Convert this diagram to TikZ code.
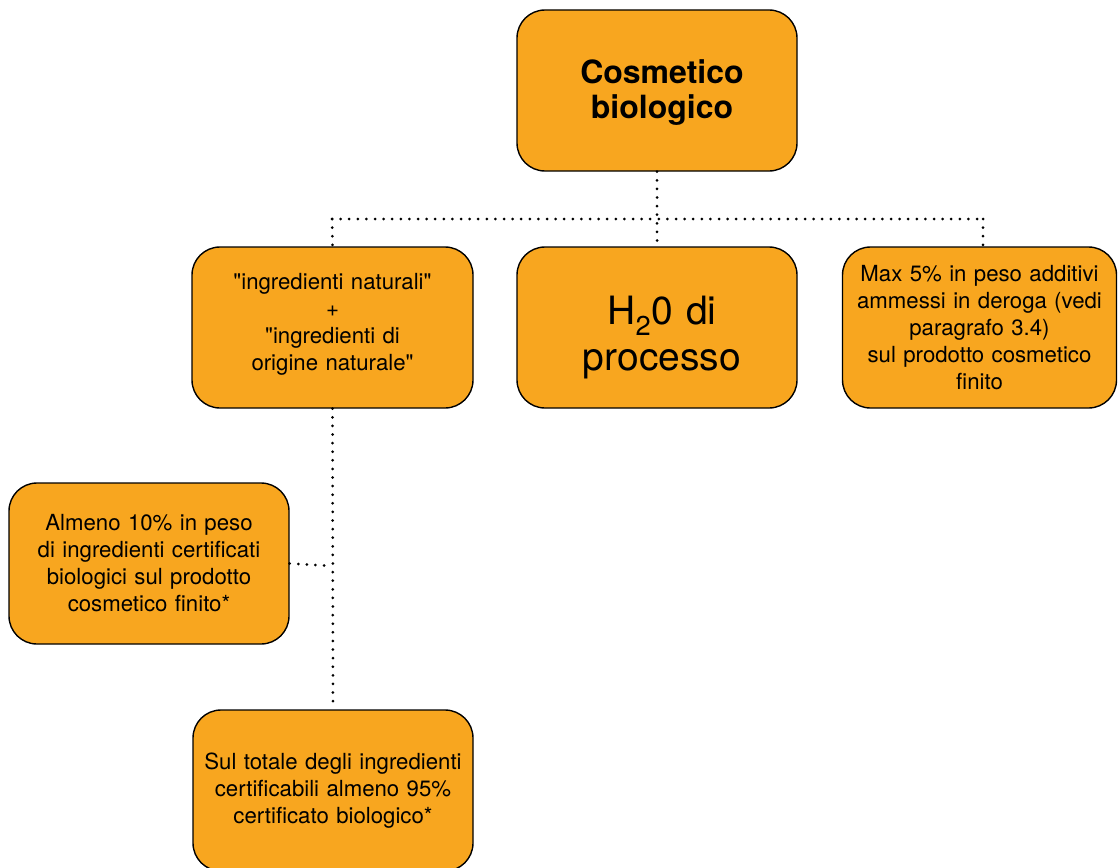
\documentclass[tikz,border=0pt]{standalone}
\usepackage{fontspec}
\setmainfont{TeX Gyre Heros}
\definecolor{boxfill}{HTML}{F8A61F}
\newcommand{\qq}{\textquotedbl}
\begin{document}
\begin{tikzpicture}[x=1pt,y=-1pt,
  box/.style={draw=black, line width=1.4pt, fill=boxfill, rounded corners=28pt,
    minimum width=280pt, minimum height=161pt, inner sep=0pt, align=center,
    font=\fontsize{22.2}{27}\selectfont},
  conn/.style={line width=3pt, line cap=round, dash pattern=on 0pt off 8.6pt}]
\useasboundingbox (0,0) rectangle (1118,867);
\node[box, text width=250pt, font=\fontsize{32}{35}\bfseries\selectfont] (top) at (657,90.5) {\hspace*{10pt}\rule{0pt}{27pt}Cosmetico\\\hspace*{10pt}biologico};
\node[box, minimum width=281pt, text width=265pt] (ing) at (332.5,327.5) {\qq ingredienti naturali\qq\\+\\\qq ingredienti di\\origine naturale\qq\rule[-12pt]{0pt}{0pt}};
\node[box, text width=250pt, font=\fontsize{39}{46}\selectfont] (h2o) at (657,327.5) {\hspace*{10pt}\rule{0pt}{48pt}H\textsubscript{2}0 di\\\hspace*{10pt}processo};
\node[box, minimum width=274pt, text width=266pt] (max) at (979.5,327.5) {Max 5\% in peso additivi\\ammessi in deroga (vedi\\paragrafo 3.4)\\sul prodotto cosmetico\\finito};
\node[box, text width=270pt] (alm) at (149,563.5) {Almeno 10\% in peso\\di ingredienti certificati\\biologici sul prodotto\\cosmetico finito*};
\node[box, text width=272pt] (sul) at (333,790.5) {Sul totale degli ingredienti\\certificabili almeno 95\%\\certificato biologico*};
\coordinate (jl) at (332,219);
\coordinate (jr) at (983,219);
\coordinate (jalm) at (332,566);
\draw[conn] (top.south) -- (h2o.north);
\draw[conn] (jl) -- (jr);
\draw[conn] (jl) -- (ing.north);
\draw[conn] (jr) -- (jr |- max.north);
\draw[conn] (ing.south) -- (sul.north);
\draw[conn] (alm.east) -- (jalm);
\end{tikzpicture}
\end{document}
